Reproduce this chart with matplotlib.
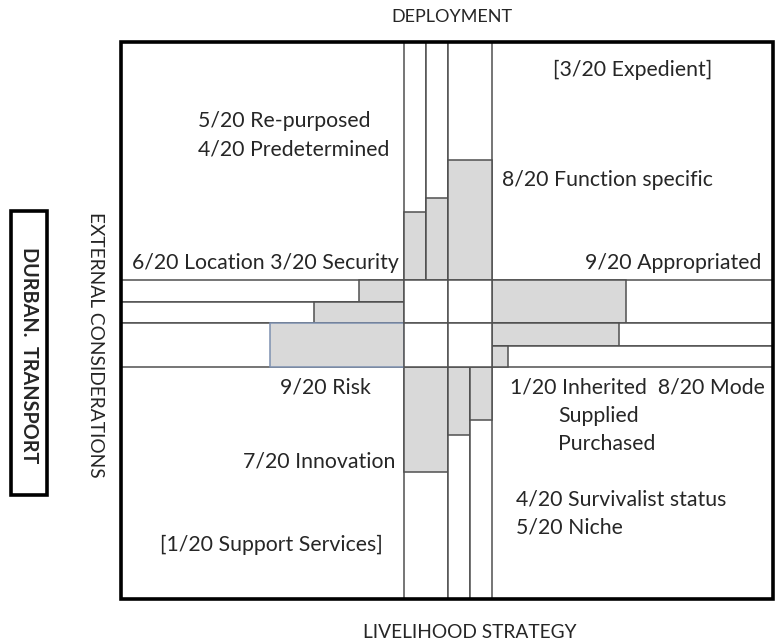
import matplotlib.pyplot as plt
from matplotlib.patches import Rectangle

# diagram frame (pixel space of the original figure)
frame = (121, 42, 773, 599)
band_top, band_mid, band_bot = 280, 323, 367
col_l, col_m, col_r = 404, 448, 492

# upper arm: three columns, gray part measured upward from the band
top_edges = [404, 426, 448]
top_widths = [22, 22, 44]
top_fill = [68, 82, 120]

# lower arm: three columns, gray part measured downward from the band
bot_edges = [404, 448, 470]
bot_widths = [44, 22, 22]
bot_fill = [105, 68, 53]

# left arm: three rows, gray part measured leftward from the centre block
left_rows = [280, 302, 323]
left_heights = [22, 21, 44]
left_fill = [45, 90, 134]

# right arm: three rows, gray part measured rightward from the centre block
right_rows = [280, 323, 346]
right_heights = [43, 23, 21]
right_fill = [134, 127, 16]

labels = [
    ("[3/20 Expedient]", 553, 70),
    ("5/20 Re-purposed", 198, 121),
    ("4/20 Predetermined", 198, 150),
    ("8/20 Function specific", 502, 180),
    ("6/20 Location 3/20 Security", 132, 263),
    ("9/20 Appropriated", 585, 263),
    ("9/20 Risk", 280, 388),
    ("1/20 Inherited  8/20 Mode", 510, 388),
    ("Supplied", 558, 416),
    ("Purchased", 558, 444),
    ("7/20 Innovation", 243, 462),
    ("4/20 Survivalist status", 516, 499),
    ("5/20 Niche", 516, 528),
    ("[1/20 Support Services]", 160, 545),
]

gray = "#d9d9d9"
edge = "#505050"
txt = "#262626"
plt.rcParams['font.family'] = ['Lato', 'DejaVu Sans']

fig = plt.figure(figsize=(7.75, 6.41), dpi=100)
ax = fig.add_axes([0, 0, 1, 1])
ax.set_xlim(0, 775)
ax.set_ylim(641, 0)
ax.axis('off')

x0, y0, x1, y1 = frame
lw = 1.1

# upper columns
for e, w, f in zip(top_edges, top_widths, top_fill):
    ax.bar(e, band_top - y0, bottom=y0, width=w, align='edge', color='white', edgecolor=edge, lw=lw)
    ax.bar(e, f, bottom=band_top - f, width=w, align='edge', color=gray, edgecolor=edge, lw=lw)

# lower columns
for e, w, f in zip(bot_edges, bot_widths, bot_fill):
    ax.bar(e, y1 - band_bot, bottom=band_bot, width=w, align='edge', color='white', edgecolor=edge, lw=lw)
    ax.bar(e, f, bottom=band_bot, width=w, align='edge', color=gray, edgecolor=edge, lw=lw)

# left rows
for i, (r, h, f) in enumerate(zip(left_rows, left_heights, left_fill)):
    ax.barh(r, col_l - x0, left=x0, height=h, align='edge', color='white', edgecolor=edge, lw=lw)
    ec = "#7d90b0" if i == 2 else edge
    ax.barh(r, f, left=col_l - f, height=h, align='edge', color=gray, edgecolor=ec, lw=lw)

# right rows
for r, h, f in zip(right_rows, right_heights, right_fill):
    ax.barh(r, x1 - col_r, left=col_r, height=h, align='edge', color='white', edgecolor=edge, lw=lw)
    ax.barh(r, f, left=col_r, height=h, align='edge', color=gray, edgecolor=edge, lw=lw)

# centre block 2x2
for cx in (col_l, col_m):
    for cy, ch in ((band_top, band_mid - band_top), (band_mid, band_bot - band_mid)):
        ax.add_patch(Rectangle((cx, cy), 44, ch, facecolor='white', edgecolor=edge, lw=lw))

ax.add_patch(Rectangle((x0, y0), x1 - x0, y1 - y0, fill=False, edgecolor='black', lw=2.6))

for s, x, y in labels:
    ax.text(x, y, s, ha='left', va='center', fontsize=15.3, color=txt)

ax.text(452, 17, "DEPLOYMENT", ha='center', va='center', fontsize=13, color=txt)
ax.text(470, 632, "LIVELIHOOD STRATEGY", ha='center', va='center', fontsize=13.8, color=txt)
ax.text(95, 345, "EXTERNAL CONSIDERATIONS", ha='center', va='center', rotation=-90, fontsize=13.8, color=txt)
ax.add_patch(Rectangle((11, 211), 36, 284, fill=False, edgecolor='black', lw=2.6))
ax.text(29, 355, "DURBAN.  TRANSPORT", ha='center', va='center', rotation=-90, fontsize=14.2,
        fontweight='bold', color=txt)

fig.savefig("out.png", dpi=100)
